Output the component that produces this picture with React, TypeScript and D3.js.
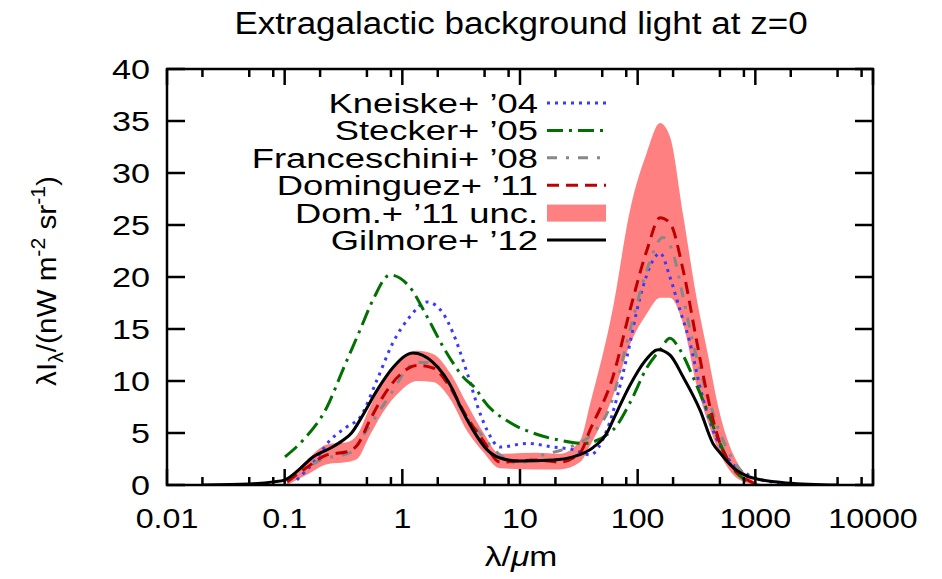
import React from 'react';
import * as d3 from 'd3';

// ---------- data ----------
const xTickValues = [0.01, 0.1, 1, 10, 100, 1000, 10000];
const xTickLabels = ['0.01', '0.1', '1', '10', '100', '1000', '10000'];
const yTickValues = [0, 5, 10, 15, 20, 25, 30, 35, 40];

// Kneiske+ '04
const kneiskeLam = [0.127, 0.174, 0.243, 0.339, 0.437, 0.609, 0.833, 1.162, 1.62, 2.22, 2.7, 3.55, 4.57, 5.24, 6.76, 11.5, 19, 28.2, 39.4, 54.8, 81, 104.6, 135, 155, 188, 229, 278, 339, 436, 574, 900, 1600];
const kneiskeVal = [0.5, 2.1, 4.3, 5.6, 6.5, 10.1, 13.7, 16.2, 17.6, 16.5, 14.6, 10.8, 6.9, 5.3, 3.65, 4.0, 3.65, 3.4, 2.9, 5.3, 12.3, 18.0, 21.6, 22.3, 20.0, 16.8, 13.7, 9.4, 5.3, 2.7, 0.9, 0.2];

// Stecker+ '05
const steckerLam = [0.1006, 0.143, 0.229, 0.313, 0.437, 0.563, 0.786, 1.162, 1.62, 2.22, 3.28, 4.31, 4.85, 8.22, 12.9, 21.9, 34.3, 61.6, 86, 120, 155, 188, 229, 295, 388, 501, 646, 849, 1100];
const steckerVal = [2.7, 4.3, 7.5, 11.1, 14.9, 17.8, 20.2, 19.0, 16.2, 13.3, 10.4, 9.1, 8.2, 6.0, 5.0, 4.3, 4.0, 5.3, 7.9, 11.3, 13.0, 14.1, 13.0, 10.4, 7.2, 4.0, 1.6, 0.4, 0.0];

// Franceschini+ '08
const francLam = [0.105, 0.15, 0.2, 0.359, 0.501, 0.741, 1.33, 1.82, 2.4, 3.09, 4.57, 6.76, 9.42, 15.7, 26.6, 41.7, 58, 86, 120, 164, 200, 243, 295, 388, 501, 646, 800];
const francVal = [0.3, 1.5, 2.4, 3.1, 5.3, 8.2, 11.8, 11.7, 10.1, 7.5, 5.0, 2.9, 2.1, 2.9, 3.65, 5.0, 7.5, 14.9, 20.7, 23.8, 22.3, 18.1, 13.7, 8.8, 5.0, 2.4, 1.0];

// Dominguez+ '11 (mean and uncertainty band)
const domLam = [0.105, 0.155, 0.229, 0.339, 0.412, 0.531, 0.685, 0.955, 1.33, 1.82, 2.54, 3.55, 4.85, 6.76, 13.9, 21.9, 32.4, 39.4, 61.6, 86, 120, 155, 188, 243, 319, 388, 501, 646, 849, 1100];
const domVal = [0.3, 1.7, 2.9, 3.2, 3.8, 6.25, 8.5, 10.6, 11.5, 11.25, 9.4, 6.5, 4.3, 2.2, 2.4, 2.2, 3.1, 5.3, 10.4, 16.8, 22.6, 25.7, 25.2, 20.7, 13.7, 8.8, 4.0, 1.7, 0.5, 0.0];
const domLow = [0.0, 1.0, 2.0, 2.2, 2.5, 4.8, 7.0, 9.0, 10.0, 9.9, 8.3, 5.2, 3.2, 1.6, 1.5, 1.5, 2.2, 3.8, 8.5, 13.5, 16.5, 18.0, 18.0, 15.5, 9.5, 6.3, 3.0, 1.0, 0.2, 0.0];
const domHigh = [0.4, 2.4, 3.9, 4.1, 4.8, 7.5, 10.0, 12.0, 12.9, 12.6, 10.8, 7.8, 5.1, 3.0, 3.1, 3.0, 4.3, 7.8, 17.0, 26.4, 32.0, 34.8, 33.5, 26.0, 17.8, 13.0, 6.8, 3.0, 0.9, 0.1];

// Gilmore+ '12
const gilmoreLam = [0.02, 0.05, 0.08, 0.1006, 0.13, 0.174, 0.25, 0.313, 0.37, 0.45, 0.609, 0.833, 1.23, 1.82, 2.7, 3.09, 3.98, 5.24, 6.76, 10, 19, 28.2, 41.7, 54.8, 61.6, 86, 115, 149, 188, 243, 339, 436, 501, 646, 955, 1858, 5000];
const gilmoreVal = [0.0, 0.1, 0.3, 0.5, 1.4, 2.7, 3.6, 4.3, 5.0, 6.5, 9.1, 11.3, 12.7, 11.8, 9.1, 7.6, 5.3, 3.4, 2.6, 2.3, 2.4, 2.7, 3.6, 5.0, 6.2, 9.6, 11.9, 13.0, 12.5, 10.4, 7.2, 4.0, 3.1, 1.7, 0.67, 0.2, 0.0];

const zip = (a: number[], b: number[]) => a.map((v, i) => [v, b[i]] as [number, number]);

const FONT = "'Liberation Sans', Arial, Helvetica, sans-serif";

const series = [
  { name: "Kneiske+ \u201904", lam: kneiskeLam, val: kneiskeVal, color: '#3a3aff', dash: '3,5' },
  { name: "Stecker+ \u201905", lam: steckerLam, val: steckerVal, color: '#007000', dash: '16,6,3,6' },
  { name: "Franceschini+ \u201908", lam: francLam, val: francVal, color: '#888888', dash: '10,9,3,9' },
  { name: "Dominguez+ \u201911", lam: domLam, val: domVal, color: '#c00000', dash: '12,7' },
];

function T({ x, y, sx = 1.2, anchor = 'start', size = 28, children }: any) {
  return (
    <text transform={`translate(${x},${y}) scale(${sx},1)`} textAnchor={anchor} fontSize={size}>
      {children}
    </text>
  );
}

export default function App() {
  const x0 = 167, x1 = 873, y0 = 485, y1 = 69;
  const x = d3.scaleLog().domain([0.01, 10000]).range([x0, x1]);
  const y = d3.scaleLinear().domain([0, 40]).range([y0, y1]);

  const line = d3.line<[number, number]>()
    .x(d => x(d[0])).y(d => y(d[1])).curve(d3.curveMonotoneX);
  const band = d3.area<number>()
    .x((_, i) => x(domLam[i]))
    .y0((_, i) => y(domLow[i]))
    .y1((_, i) => y(domHigh[i]))
    .curve(d3.curveMonotoneX);

  const minorX: number[] = [];
  for (let e = -2; e < 4; e++) {
    for (const m of [2, 5, 8]) minorX.push(m * Math.pow(10, e));
  }

  const legendRows = [
    { label: "Kneiske+ \u201904", kind: 'line', color: '#3a3aff', dash: '3,5' },
    { label: "Stecker+ \u201905", kind: 'line', color: '#007000', dash: '16,6,3,6' },
    { label: "Franceschini+ \u201908", kind: 'line', color: '#888888', dash: '10,9,3,9' },
    { label: "Dominguez+ \u201911", kind: 'line', color: '#c00000', dash: '12,7' },
    { label: "Dom.+ \u201911 unc.", kind: 'band', color: '#ff8080', dash: '' },
    { label: "Gilmore+ \u201912", kind: 'line', color: '#000000', dash: '' },
  ];

  return (
    <svg width={942} height={579} style={{ position: 'absolute', left: 0, top: 0, background: '#fff' }} fontFamily={FONT}>
      <defs>
        <clipPath id="plot">
          <rect x={x0} y={y1} width={x1 - x0} height={y0 - y1} />
        </clipPath>
      </defs>
      {/* title */}
      <T x={521} y={34} anchor="middle" size={31} sx={1.13}>Extragalactic background light at z=0</T>

      {/* data */}
      <g clipPath="url(#plot)">
        <path d={band(domLam.map((_, i) => i)) || ''} fill="#ff8080" stroke="none" />
        {series.map(s => (
          <path key={s.name} d={line(zip(s.lam, s.val)) || ''} fill="none" stroke={s.color}
            strokeWidth={3} strokeDasharray={s.dash} />
        ))}
        <path d={line(zip(gilmoreLam, gilmoreVal)) || ''} fill="none" stroke="#000" strokeWidth={3} />
      </g>

      {/* frame */}
      <rect x={x0} y={y1} width={x1 - x0} height={y0 - y1} fill="none" stroke="#000" strokeWidth={2.5} />

      {/* x ticks */}
      {xTickValues.map((v, i) => (
        <g key={'xt' + v}>
          <line x1={x(v)} x2={x(v)} y1={y0} y2={y0 - 16} stroke="#000" strokeWidth={2.5} />
          <line x1={x(v)} x2={x(v)} y1={y1} y2={y1 + 16} stroke="#000" strokeWidth={2.5} />
          <T x={x(v)} y={528} anchor="middle" size={28} sx={1.15}>{xTickLabels[i]}</T>
        </g>
      ))}
      {minorX.map(v => (
        <g key={'xm' + v}>
          <line x1={x(v)} x2={x(v)} y1={y0} y2={y0 - 8} stroke="#000" strokeWidth={2.5} />
          <line x1={x(v)} x2={x(v)} y1={y1} y2={y1 + 8} stroke="#000" strokeWidth={2.5} />
        </g>
      ))}
      {/* y ticks */}
      {yTickValues.map(v => (
        <g key={'yt' + v}>
          <line x1={x0} x2={x0 + 18} y1={y(v)} y2={y(v)} stroke="#000" strokeWidth={2.5} />
          <line x1={x1} x2={x1 - 18} y1={y(v)} y2={y(v)} stroke="#000" strokeWidth={2.5} />
          <T x={150} y={y(v) + 10} anchor="end" size={28} sx={1.22}>{v}</T>
        </g>
      ))}

      {/* axis labels */}
      <T x={521} y={566} anchor="middle" size={28} sx={1.2}>
        λ/<tspan fontStyle="italic">μ</tspan>m
      </T>
      <text transform="translate(56,281) rotate(-90) scale(1.06,1)" textAnchor="middle" fontSize={28}>
        λI<tspan fontSize={20} dy={7}>λ</tspan><tspan dy={-7}>/(nW m</tspan><tspan fontSize={20} dy={-11}>-2</tspan><tspan dy={11}> sr</tspan><tspan fontSize={20} dy={-11}>-1</tspan><tspan dy={11}>)</tspan>
      </text>

      {/* legend */}
      {legendRows.map((r, i) => {
        const cy = 103 + i * 27.4;
        return (
          <g key={r.label}>
            <T x={538} y={cy + 10} anchor="end" size={28} sx={1.3}>{r.label}</T>
            {r.kind === 'band'
              ? <rect x={547} y={cy - 8} width={59} height={17} fill={r.color} />
              : <line x1={547} x2={606} y1={cy} y2={cy} stroke={r.color} strokeWidth={3} strokeDasharray={r.dash} />}
          </g>
        );
      })}
    </svg>
  );
}
